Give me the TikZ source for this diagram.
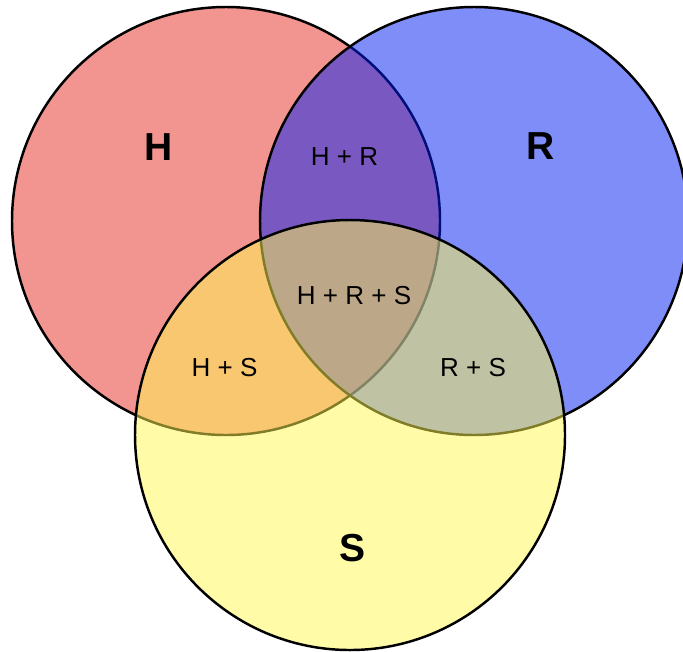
\documentclass[tikz,border=0pt]{standalone}
\usepackage{fontspec}
\setmainfont{Liberation Sans}
\definecolor{setH}{RGB}{231,45,35}
\definecolor{setR}{RGB}{1,29,245}
\definecolor{setS}{RGB}{255,249,81}
\begin{document}
\begin{tikzpicture}[x=0.01cm,y=-0.01cm,
  setcircle/.style={draw=black, line width=0.7pt, fill opacity=0.5},
  setname/.style={font=\fontsize{11.1}{13}\selectfont\bfseries, inner sep=0pt},
  overlap/.style={font=\fontsize{7.4}{9}\selectfont, inner sep=0pt}]
  \useasboundingbox (0,0) rectangle (683,651);
  \fill[white] (0,0) rectangle (683,651);

  % the three sets, each half transparent so overlaps mix
  \draw[setcircle, fill=setH] (226,221) circle [radius=214];
  \draw[setcircle, fill=setR] (474,221) circle [radius=214];
  \draw[setcircle, fill=setS] (350,435) circle [radius=215];

  % set names
  \node[setname] (nameH) at (158.5,147) {H};
  \node[setname] (nameR) at (541,146.5) {R};
  \node[setname] (nameS) at (353,548) {S};

  % overlap labels
  \node[overlap] (hr)  at (344.5,157) {H + R};
  \node[overlap] (hrs) at (354,296) {H + R + S};
  \node[overlap] (hs)  at (224.5,368) {H + S};
  \node[overlap] (rs)  at (473,368) {R + S};
\end{tikzpicture}
\end{document}
